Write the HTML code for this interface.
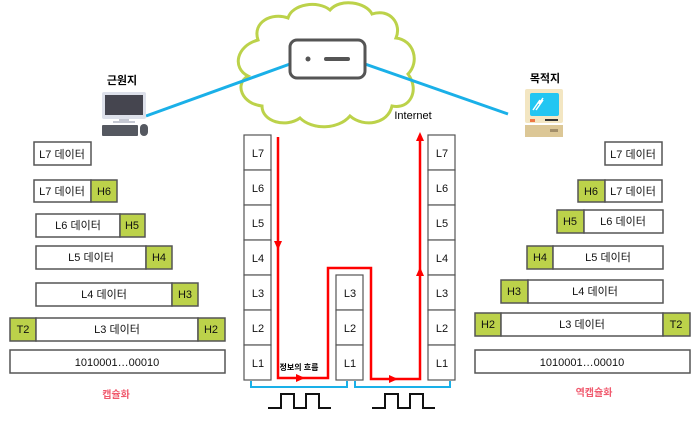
<!DOCTYPE html>
<html><head><meta charset="utf-8"><style>
html,body{margin:0;padding:0;background:#fff;}
svg text{font-family:"Liberation Sans","Noto Sans CJK KR",sans-serif;}
</style></head><body>
<svg width="700" height="416" viewBox="0 0 700 416" xmlns="http://www.w3.org/2000/svg">
<!-- cloud -->
<g fill="#fff" stroke="#bcd24a" stroke-width="3">
<path d="M258,40 C252,22 272,12 288,18 C292,4 318,0 330,10 C340,-2 366,2 372,14 C390,8 402,24 396,38 C414,40 420,62 408,74 C420,90 410,110 392,106 C388,124 364,128 350,116 C338,130 312,130 300,118 C286,128 262,122 262,106 C242,104 234,84 248,76 C232,68 236,46 258,40 Z"/>
</g>
<!-- blue links -->
<g stroke="#1ab0e8" stroke-width="3">
<line x1="146" y1="116" x2="290" y2="64"/>
<line x1="365" y1="64" x2="508" y2="114"/>
</g>
<rect x="290" y="40" width="75" height="38" rx="7" fill="#fff" stroke="#555" stroke-width="3"/>
<circle cx="308" cy="59" r="2.5" fill="#555"/>
<line x1="326" y1="59" x2="348" y2="59" stroke="#555" stroke-width="4" stroke-linecap="round"/>
<text x="413" y="119" font-size="11" text-anchor="middle">Internet</text>
<!-- source PC -->
<text x="122" y="84" font-size="11" font-weight="bold" text-anchor="middle">근원지</text>
<rect x="102" y="92" width="44" height="27" rx="2" fill="#dde0ea"/>
<rect x="105" y="95" width="38" height="20" fill="#45454f"/>
<rect x="119" y="119" width="10" height="3" fill="#c5c8d2"/>
<rect x="113" y="121" width="22" height="2" fill="#c5c8d2"/>
<rect x="102" y="125" width="36" height="11" rx="1" fill="#555860"/>
<rect x="140" y="124" width="8" height="12" rx="4" fill="#555860"/>
<!-- dest mac -->
<text x="545" y="82" font-size="11" font-weight="bold" text-anchor="middle">목적지</text>
<rect x="525" y="89" width="38" height="34" rx="2" fill="#f3e6c2"/>
<rect x="530" y="93" width="29" height="23" rx="2" fill="#22c6f2"/>
<path d="M533,110 L540,100 M536,110 L543,100 M539,104 L543,98" stroke="#fff" stroke-width="1.5"/>
<rect x="530" y="119" width="5" height="3" fill="#e74"/>
<rect x="545" y="119" width="13" height="2" fill="#333"/>
<rect x="525" y="125" width="38" height="12" fill="#dcc796"/>
<rect x="550" y="129" width="8" height="3" fill="#a38f6a"/>
<!-- left boxes -->
<g stroke="#555" stroke-width="1.5">
<rect x="34" y="142" width="57" height="23" fill="#fff"/>
<rect x="34" y="180" width="57" height="22" fill="#fff"/><rect x="91" y="180" width="26" height="22" fill="#bcd24a"/>
<rect x="36" y="214" width="84" height="23" fill="#fff"/><rect x="120" y="214" width="25" height="23" fill="#bcd24a"/>
<rect x="36" y="246" width="110" height="23" fill="#fff"/><rect x="146" y="246" width="26" height="23" fill="#bcd24a"/>
<rect x="36" y="283" width="136" height="23" fill="#fff"/><rect x="172" y="283" width="26" height="23" fill="#bcd24a"/>
<rect x="10" y="318" width="26" height="23" fill="#bcd24a"/><rect x="36" y="318" width="162" height="23" fill="#fff"/><rect x="198" y="318" width="27" height="23" fill="#bcd24a"/>
<rect x="10" y="350" width="215" height="23" fill="#fff"/>
<!-- right boxes -->
<rect x="605" y="142" width="57" height="23" fill="#fff"/>
<rect x="578" y="180" width="27" height="22" fill="#bcd24a"/><rect x="605" y="180" width="57" height="22" fill="#fff"/>
<rect x="557" y="210" width="27" height="23" fill="#bcd24a"/><rect x="584" y="210" width="79" height="23" fill="#fff"/>
<rect x="527" y="246" width="26" height="23" fill="#bcd24a"/><rect x="553" y="246" width="110" height="23" fill="#fff"/>
<rect x="501" y="280" width="27" height="23" fill="#bcd24a"/><rect x="528" y="280" width="135" height="23" fill="#fff"/>
<rect x="475" y="313" width="26" height="23" fill="#bcd24a"/><rect x="501" y="313" width="162" height="23" fill="#fff"/><rect x="663" y="313" width="27" height="23" fill="#bcd24a"/>
<rect x="475" y="350" width="215" height="23" fill="#fff"/>
</g>
<g font-size="11" text-anchor="middle" fill="#111">
<text x="62" y="158">L7 데이터</text>
<text x="62" y="195">L7 데이터</text><text x="104" y="195">H6</text>
<text x="78" y="229">L6 데이터</text><text x="132" y="229">H5</text>
<text x="91" y="261">L5 데이터</text><text x="159" y="261">H4</text>
<text x="104" y="298">L4 데이터</text><text x="185" y="298">H3</text>
<text x="23" y="333">T2</text><text x="117" y="333">L3 데이터</text><text x="211" y="333">H2</text>
<text x="117" y="366">1010001…00010</text>
<text x="633" y="158">L7 데이터</text>
<text x="591" y="195">H6</text><text x="633" y="195">L7 데이터</text>
<text x="570" y="225">H5</text><text x="623" y="225">L6 데이터</text>
<text x="540" y="261">H4</text><text x="608" y="261">L5 데이터</text>
<text x="514" y="295">H3</text><text x="595" y="295">L4 데이터</text>
<text x="488" y="328">H2</text><text x="582" y="328">L3 데이터</text><text x="676" y="328">T2</text>
<text x="582" y="366">1010001…00010</text>
</g>
<text x="116" y="398" font-size="10" font-weight="bold" fill="#f05a6e" text-anchor="middle">캡슐화</text>
<text x="594" y="396" font-size="10" font-weight="bold" fill="#f05a6e" text-anchor="middle">역캡슐화</text>
<!-- stacks -->
<g stroke="#555" stroke-width="1.2" fill="#fff">
<rect x="244" y="135" width="27" height="35"/><rect x="244" y="170" width="27" height="35"/><rect x="244" y="205" width="27" height="35"/><rect x="244" y="240" width="27" height="35"/><rect x="244" y="275" width="27" height="35"/><rect x="244" y="310" width="27" height="35"/><rect x="244" y="345" width="27" height="35"/>
<rect x="336" y="275" width="27" height="35"/><rect x="336" y="310" width="27" height="35"/><rect x="336" y="345" width="27" height="35"/>
<rect x="428" y="135" width="27" height="35"/><rect x="428" y="170" width="27" height="35"/><rect x="428" y="205" width="27" height="35"/><rect x="428" y="240" width="27" height="35"/><rect x="428" y="275" width="27" height="35"/><rect x="428" y="310" width="27" height="35"/><rect x="428" y="345" width="27" height="35"/>
</g>
<g font-size="11" text-anchor="middle" fill="#111">
<text x="258" y="157">L7</text><text x="258" y="192">L6</text><text x="258" y="227">L5</text><text x="258" y="262">L4</text><text x="258" y="297">L3</text><text x="258" y="332">L2</text><text x="258" y="367">L1</text>
<text x="350" y="297">L3</text><text x="350" y="332">L2</text><text x="350" y="367">L1</text>
<text x="442" y="157">L7</text><text x="442" y="192">L6</text><text x="442" y="227">L5</text><text x="442" y="262">L4</text><text x="442" y="297">L3</text><text x="442" y="332">L2</text><text x="442" y="367">L1</text>
</g>
<!-- red flow -->
<polyline points="278,137 278,378 328,378 328,268 371,268 371,379 420,379 420,138" fill="none" stroke="#f00" stroke-width="2.5"/>
<g fill="#f00">
<polygon points="274,241 282,241 278,250"/>
<polygon points="296,374 296,382 305,378"/>
<polygon points="389,375 389,383 398,379"/>
<polygon points="416,276 424,276 420,267"/>
<polygon points="416,141 424,141 420,132"/>
</g>
<text x="299" y="370" font-size="8" font-weight="bold" text-anchor="middle">정보의 흐름</text>
<!-- blue brackets -->
<g fill="none" stroke="#1ab0e8" stroke-width="2">
<polyline points="251,381 251,387 347,387 347,381"/>
<polyline points="355,381 355,387 450,387 450,381"/>
</g>
<!-- square waves -->
<g fill="none" stroke="#111" stroke-width="2">
<polyline points="268,408 281,408 281,394 294,394 294,408 306,408 306,394 319,394 319,408 331,408"/>
<polyline points="372,408 385,408 385,394 398,394 398,408 410,408 410,394 423,394 423,408 435,408"/>
</g>
</svg>
</body></html>
